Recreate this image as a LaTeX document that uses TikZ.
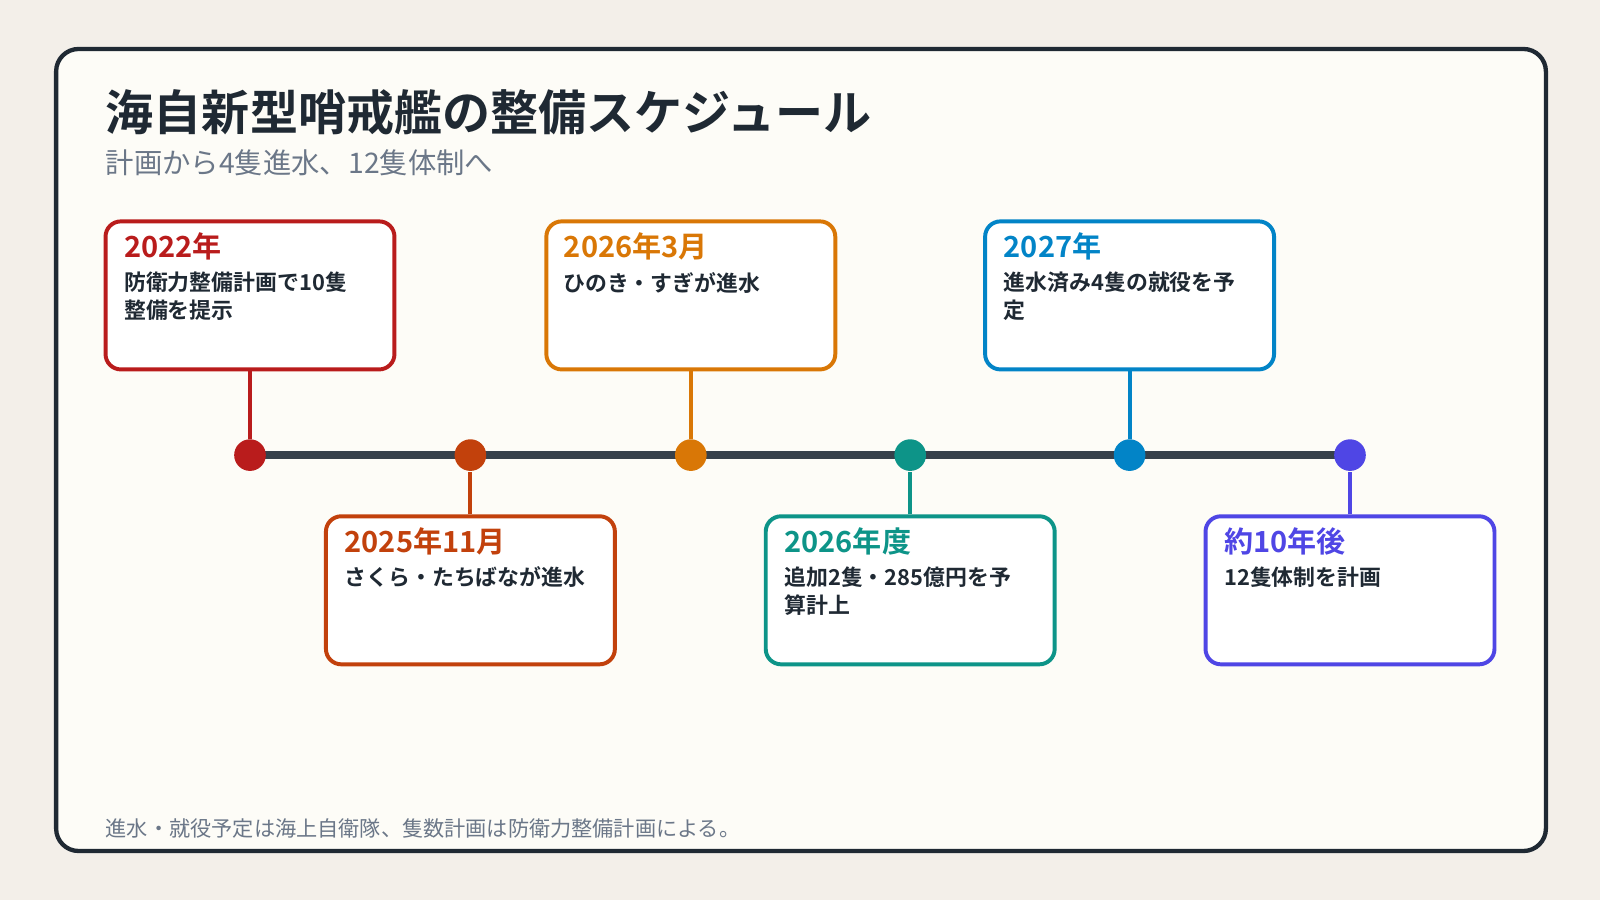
\documentclass[tikz,border=0pt]{standalone}
\usepackage{fontspec}
\setmainfont{Noto Sans CJK JP}[BoldFont={Noto Sans CJK JP Bold}]
\definecolor{bg}{HTML}{F3EFE9}
\definecolor{card}{HTML}{FDFCF7}
\definecolor{ink}{HTML}{1F2933}
\definecolor{line}{HTML}{36404A}
\definecolor{gray}{HTML}{6B7788}
\definecolor{cA}{HTML}{B91C1C}
\definecolor{cB}{HTML}{C2410C}
\definecolor{cC}{HTML}{D97706}
\definecolor{cD}{HTML}{0D9488}
\definecolor{cE}{HTML}{0284C7}
\definecolor{cF}{HTML}{4F46E5}
\begin{document}
\begin{tikzpicture}[x=0.01cm,y=-0.01cm,
  box/.style={draw=#1,line width=1.1pt,rounded corners=0.15cm,fill=white,minimum width=2.83cm,minimum height=1.45cm},
  dot/.style={circle,fill=#1,minimum size=0.31cm,inner sep=0},
  yr/.style={anchor=base west,font=\bfseries\fontsize{8.1}{9}\selectfont,text=#1,inner sep=0},
  body/.style={anchor=north west,font=\bfseries\fontsize{6.1}{7.8}\selectfont,text=ink,align=left,inner sep=0},
  conn/.style={draw=#1,line width=1.1pt}]
\useasboundingbox (0,0) rectangle (1568,882);
\fill[bg] (0,0) rectangle (1568,882);
\draw[ink,line width=1.2pt,fill=card,rounded corners=0.22cm] (55,48) rectangle (1515,834);
\node[anchor=base west,inner sep=0,font=\bfseries\fontsize{13.4}{16}\selectfont,text=ink] (title) at (103,128) {海自新型哨戒艦の整備スケジュール};
\node[anchor=base west,inner sep=0,font=\fontsize{7.9}{9}\selectfont,text=gray] (sub) at (103,170) {計画から4隻進水、12隻体制へ};
\node[anchor=base west,inner sep=0,font=\fontsize{5.9}{7}\selectfont,text=gray] (foot) at (103,820) {進水・就役予定は海上自衛隊、隻数計画は防衛力整備計画による。};
% timeline
\coordinate (L) at (245,446); \coordinate (R) at (1323,446);
\draw[line,line width=2.2pt] (L) -- (R);
\foreach \n/\x/\c in {1/245/cA,2/461/cB,3/677/cC,4/892/cD,5/1107/cE,6/1323/cF}
  \node[dot=\c] (d\n) at (\x,446) {};
% upper boxes
\foreach \n/\x/\c in {1/245/cA,3/677/cC,5/1107/cE}{
  \node[box=\c] (b\n) at (\x,289.5) {};
  \draw[conn=\c] (b\n.south) -- (d\n);}
\foreach \n/\x/\c in {2/461/cB,4/892/cD,6/1323/cF}{
  \node[box=\c] (b\n) at (\x,578.5) {};
  \draw[conn=\c] (b\n.north) -- (d\n);}
\node[yr=cA] (t1) at (121,252) {2022年};
\node[body] (x1) at (121,266) {防衛力整備計画で10隻\\整備を提示};
\node[yr=cC] (t3) at (552,252) {2026年3月};
\node[body] (x3) at (552,266) {ひのき・すぎが進水};
\node[yr=cE] (t5) at (983,252) {2027年};
\node[body] (x5) at (983,266) {進水済み4隻の就役を予\\定};
\node[yr=cB] (t2) at (337,541) {2025年11月};
\node[body] (x2) at (337,555) {さくら・たちばなが進水};
\node[yr=cD] (t4) at (768,541) {2026年度};
\node[body] (x4) at (768,555) {追加2隻・285億円を予\\算計上};
\node[yr=cF] (t6) at (1199,541) {約10年後};
\node[body] (x6) at (1199,555) {12隻体制を計画};
\end{tikzpicture}
\end{document}
